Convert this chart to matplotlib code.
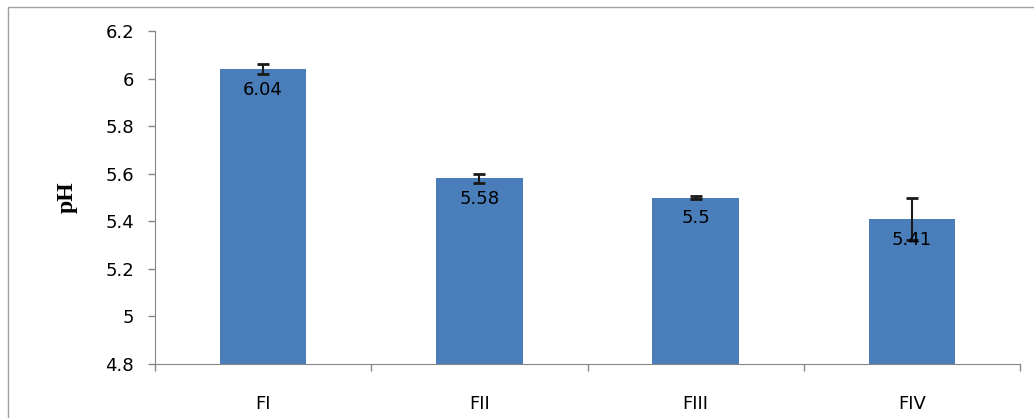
import matplotlib.pyplot as plt
from matplotlib.patches import Rectangle
import numpy as np

categories = ["FI", "FII", "FIII", "FIV"]
ph_values = [6.04, 5.58, 5.5, 5.41]
ph_errors = [0.02, 0.02, 0.008, 0.09]
y_ticks = [4.8, 5.0, 5.2, 5.4, 5.6, 5.8, 6.0, 6.2]
y_tick_labels = ["4.8", "5", "5.2", "5.4", "5.6", "5.8", "6", "6.2"]

fig = plt.figure(figsize=(10.34, 4.18), dpi=100)
ax = fig.add_axes([0.1499, 0.1292, 0.8366, 0.7966])

# outer chart border like the excel chart area
fig.patches.append(Rectangle((8 / 1034, -0.05), 1.2, (418 - 7) / 418 + 0.05,
                             transform=fig.transFigure, fill=False,
                             edgecolor="#a0a0a0", linewidth=1.0))

x = np.arange(len(categories))
ax.bar(x, ph_values, width=0.4, bottom=0, color="#4a7ebb", zorder=2)
ax.errorbar(x, ph_values, yerr=ph_errors, fmt="none", ecolor="#1a1a1a",
            elinewidth=1.5, capsize=4, capthick=2, zorder=3)

# value labels inside the bars
for xi, v in zip(x, ph_values):
    ax.text(xi, v - 0.05, str(v), ha="center", va="top", fontsize=13,
            color="black", zorder=4)

ax.set_ylim(4.8, 6.2)
ax.set_xlim(-0.5, len(categories) - 0.5)
ax.set_yticks(y_ticks)
ax.set_yticklabels(y_tick_labels, fontsize=13)
ax.set_xticks(x)
ax.set_xticklabels(categories, fontsize=13)
ax.tick_params(axis="x", length=0, pad=22)
ax.set_xticks(np.arange(len(categories) + 1) - 0.5, minor=True)
ax.tick_params(axis="x", which="minor", length=5, color="#868686", width=1)
ax.tick_params(axis="y", length=5, color="#868686", width=1, pad=10)

ax.set_ylabel("pH", fontsize=17, fontweight="bold", family="Liberation Serif",
              labelpad=20)

for side in ["top", "right"]:
    ax.spines[side].set_visible(False)
for side in ["left", "bottom"]:
    ax.spines[side].set_color("#868686")

plt.savefig("out.png", dpi=100)
